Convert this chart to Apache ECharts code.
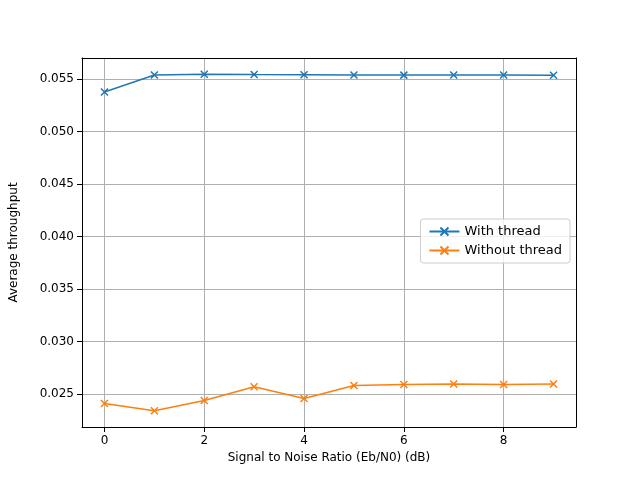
<!DOCTYPE html>
<html>
<head>
<meta charset="utf-8">
<script src="https://cdn.jsdelivr.net/npm/echarts@6/dist/echarts.min.js"></script>
<style>html,body{margin:0;padding:0;background:#fff}#chart{width:640px;height:480px}</style>
</head>
<body>
<div id="chart"></div>
<script>
const snr = [0, 1, 2, 3, 4, 5, 6, 7, 8, 9];
const withThread = [0.05376, 0.05538, 0.05545, 0.05542, 0.05540, 0.05539, 0.05537, 0.05539, 0.05538, 0.05536];
const withoutThread = [0.02410, 0.02340, 0.02438, 0.02570, 0.02458, 0.02582, 0.02590, 0.02596, 0.02590, 0.02595];
const xTicks = [0, 2, 4, 6, 8];
const yTicks = [0.025, 0.030, 0.035, 0.040, 0.045, 0.050, 0.055];

const chart = echarts.init(document.getElementById("chart"));
const font = "DejaVu Sans";
const pair = (ys) => snr.map((x, i) => [x, ys[i]]);
const black = { color: "#000" };

chart.setOption({
  animation: false,
  textStyle: { fontFamily: font },
  grid: { left: 80, right: 64, top: 58, bottom: 53 },
  xAxis: [{
    type: "value", min: -0.45, max: 9.45,
    name: "Signal to Noise Ratio (Eb/N0) (dB)", nameLocation: "middle", nameGap: 24,
    nameTextStyle: { fontSize: 12, color: "#000", fontFamily: font },
    axisLine: { onZero: false, lineStyle: black },
    axisTick: { show: true, customValues: xTicks, lineStyle: black },
    axisLabel: { color: "#000", fontSize: 12, fontFamily: font, customValues: xTicks },
    splitLine: { show: true, lineStyle: { color: "#b0b0b0", width: 1 } }
  }, {
    type: "value", position: "top", min: -0.45, max: 9.45,
    axisLine: { show: true, onZero: false, lineStyle: black },
    axisTick: { show: false }, axisLabel: { show: false }, splitLine: { show: false }
  }],
  yAxis: [{
    type: "value", min: 0.02186, max: 0.0570,
    name: "Average throughput", nameLocation: "middle", nameGap: 62,
    nameTextStyle: { fontSize: 12, color: "#000", fontFamily: font },
    axisLine: { show: true, onZero: false, lineStyle: black },
    axisTick: { show: true, customValues: yTicks, lineStyle: black },
    axisLabel: { color: "#000", fontSize: 12, fontFamily: font, customValues: yTicks, formatter: (v) => v.toFixed(3) },
    splitLine: { show: true, lineStyle: { color: "#b0b0b0", width: 1 } }
  }, {
    type: "value", position: "right", min: 0.02186, max: 0.0570,
    axisLine: { show: true, onZero: false, lineStyle: black },
    axisTick: { show: false }, axisLabel: { show: false }, splitLine: { show: false }
  }],
  legend: {
    right: 70, top: 219, orient: "vertical", itemGap: 6,
    padding: [6, 8], borderColor: "#ccc", borderWidth: 1, borderRadius: 3,
    backgroundColor: "rgba(255,255,255,0.8)",
    itemWidth: 30, itemHeight: 10,
    textStyle: { fontSize: 13, color: "#000", fontFamily: font },
    data: ["With thread", "Without thread"]
  },
  series: [
    {
      name: "With thread", type: "line", data: pair(withThread),
      color: "#1f77b4", symbol: "path://M0,0L10,10M10,0L0,10", symbolSize: 7,
      lineStyle: { width: 1.5 }, itemStyle: { borderColor: "#1f77b4", borderWidth: 1.5 }
    },
    {
      name: "Without thread", type: "line", data: pair(withoutThread),
      color: "#ff7f0e", symbol: "path://M0,0L10,10M10,0L0,10", symbolSize: 7,
      lineStyle: { width: 1.5 }, itemStyle: { borderColor: "#ff7f0e", borderWidth: 1.5 }
    }
  ]
});
</script>
</body>
</html>
